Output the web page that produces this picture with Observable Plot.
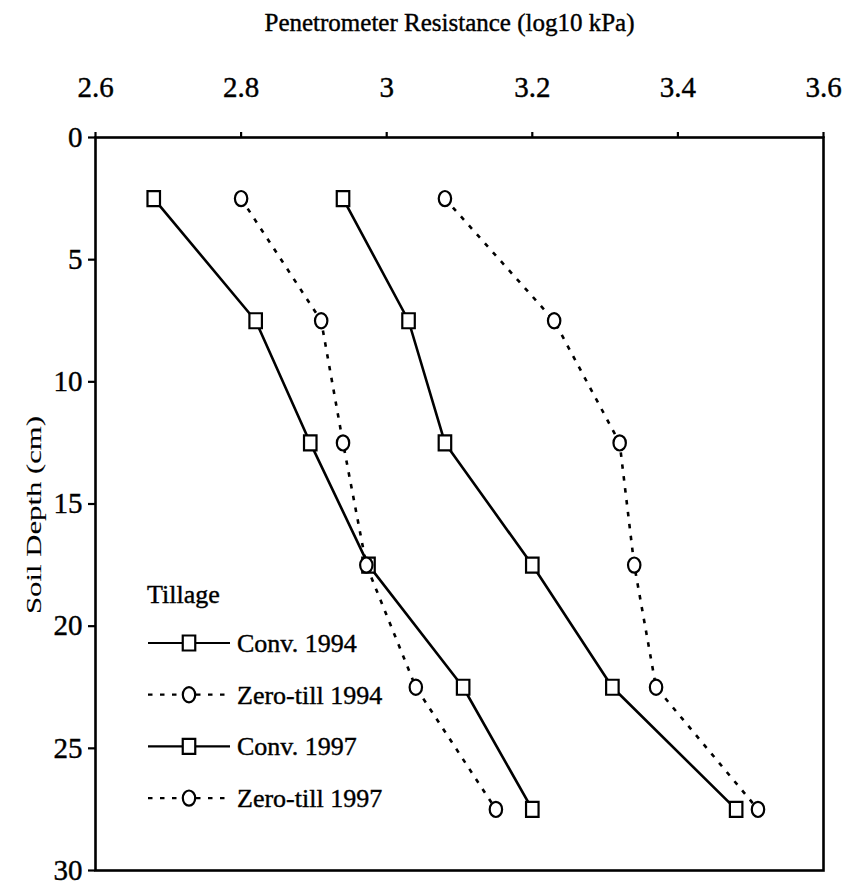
<!DOCTYPE html>
<html>
<head>
<meta charset="utf-8">
<script src="https://cdn.jsdelivr.net/npm/d3@7"></script>
<script src="https://cdn.jsdelivr.net/npm/@observablehq/plot@0.6"></script>
<style>
  html, body { margin: 0; padding: 0; background: white; }
  #chart { width: 845px; height: 884px; }
</style>
</head>
<body>
<div id="chart"></div>
<script>
// ---- data ----
const depths = [2.5, 7.5, 12.5, 17.5, 22.5, 27.5];
const conv1994 = [2.68, 2.82, 2.895, 2.975, 3.105, 3.20];
const zero1994 = [2.80, 2.91, 2.94, 2.972, 3.04, 3.15];
const conv1997 = [2.94, 3.03, 3.08, 3.20, 3.31, 3.48];
const zero1997 = [3.08, 3.23, 3.32, 3.34, 3.37, 3.51];
const seriesNames = ["Conv. 1994", "Zero-till 1994", "Conv. 1997", "Zero-till 1997"];
const xTicks = [2.6, 2.8, 3.0, 3.2, 3.4, 3.6];
const xTickLabels = ["2.6", "2.8", "3", "3.2", "3.4", "3.6"];
const yTicks = [0, 5, 10, 15, 20, 25, 30];
const xTitle = "Penetrometer Resistance (log10 kPa)";
const yTitle = "Soil Depth (cm)";
const legendTitle = "Tillage";

// ---- marker shapes (slightly tall, like the scanned original) ----
const squareSym = {
  draw(ctx) {
    const w = 12.5, h = 15;
    ctx.moveTo(-w / 2, -h / 2); ctx.lineTo(w / 2, -h / 2);
    ctx.lineTo(w / 2, h / 2); ctx.lineTo(-w / 2, h / 2); ctx.closePath();
  }
};
const ellipseSym = {
  draw(ctx) {
    const rx = 6.2, ry = 7.6, k = 0.5523;
    ctx.moveTo(rx, 0);
    ctx.bezierCurveTo(rx, k * ry, k * rx, ry, 0, ry);
    ctx.bezierCurveTo(-k * rx, ry, -rx, k * ry, -rx, 0);
    ctx.bezierCurveTo(-rx, -k * ry, -k * rx, -ry, 0, -ry);
    ctx.bezierCurveTo(k * rx, -ry, rx, -k * ry, rx, 0);
    ctx.closePath();
  }
};

const seriesValues = [conv1994, zero1994, conv1997, zero1997];
const seriesDashed = [false, true, false, true];
const seriesSymbol = [squareSym, ellipseSym, squareSym, ellipseSym];

const rows = [];
seriesNames.forEach((name, s) => {
  depths.forEach((d, i) => rows.push({series: name, depth: d, value: seriesValues[s][i]}));
});

const W = 845, H = 884;
const mLeft = 95, mRight = 22, mTop = 137, mBottom = 14;
const FONT = "'Liberation Serif', 'Times New Roman', serif";
const DASH = "4.5,7.5";

const marks = [];
seriesNames.forEach((name, s) => {
  const data = rows.filter(r => r.series === name);
  marks.push(Plot.line(data, {
    x: "value", y: "depth", stroke: "black", strokeWidth: 2.6,
    strokeDasharray: seriesDashed[s] ? DASH : null, strokeLinecap: "butt"
  }));
});
seriesNames.forEach((name, s) => {
  const data = rows.filter(r => r.series === name);
  marks.push(Plot.dot(data, {
    x: "value", y: "depth", symbol: seriesSymbol[s], r: 1,
    fill: "white", stroke: "black", strokeWidth: 2.2
  }));
});

const chart = Plot.plot({
  width: W, height: H,
  marginLeft: mLeft, marginRight: mRight, marginTop: mTop, marginBottom: mBottom,
  style: {fontFamily: FONT, background: "white", color: "black"},
  x: {domain: [2.6, 3.6]},
  y: {domain: [0, 30], reverse: true},
  marks: [
    Plot.axisX({anchor: "top", ticks: xTicks, tickFormat: (d, i) => xTickLabels[i],
      tickSize: 6, tickPadding: 35, fontSize: 29, strokeWidth: 2.2, label: null}),
    Plot.axisY({anchor: "left", ticks: yTicks, tickSize: 7, tickPadding: 6,
      fontSize: 29, strokeWidth: 2.2, label: null}),
    Plot.text([xTitle], {frameAnchor: "top", dx: -10, dy: -107, lineAnchor: "bottom",
      fontSize: 25, fill: "black"}),
    Plot.text([yTitle], {frameAnchor: "left", dx: -61, dy: 11, rotate: -90, lineAnchor: "middle",
      textAnchor: "middle", fontSize: 21, fill: "black"}),
    ...marks,
    Plot.frame({stroke: "black", strokeWidth: 2.6})
  ]
});
document.getElementById("chart").appendChild(chart);

const svg = d3.select(chart);

// ---- legend inside the frame (lower left) ----
const lg = svg.append("g").attr("transform", `translate(${mLeft + 53},0)`)
  .style("font-family", FONT).attr("fill", "black").attr("text-anchor", "start");
const frameBottom = H - mBottom;
lg.append("text").attr("x", -1).attr("y", frameBottom - 267).attr("font-size", 26).text(legendTitle);
seriesNames.forEach((name, s) => {
  const cy = frameBottom - 227 + s * 51.7;
  lg.append("line").attr("x1", 0).attr("x2", 82).attr("y1", cy).attr("y2", cy)
    .attr("stroke", "black").attr("stroke-width", 2.2)
    .attr("stroke-dasharray", seriesDashed[s] ? DASH : null);
  const p = d3.path();
  seriesSymbol[s].draw(p);
  lg.append("path").attr("transform", `translate(41,${cy})`).attr("d", p.toString())
    .attr("fill", "white").attr("stroke", "black").attr("stroke-width", 2.2);
  lg.append("text").attr("x", 89).attr("y", cy + 9).attr("font-size", 26).text(name);
});

// heavier glyphs, like the scanned print
svg.selectAll("text").attr("stroke", "black").attr("stroke-width", 0.4);
// the scanned original stretches the axis title along its length
svg.selectAll("text").filter(function () { return this.textContent === yTitle; })
  .attr("textLength", 198).attr("lengthAdjust", "spacingAndGlyphs")
  .attr("stroke-width", 0.1);
</script>
</body>
</html>
